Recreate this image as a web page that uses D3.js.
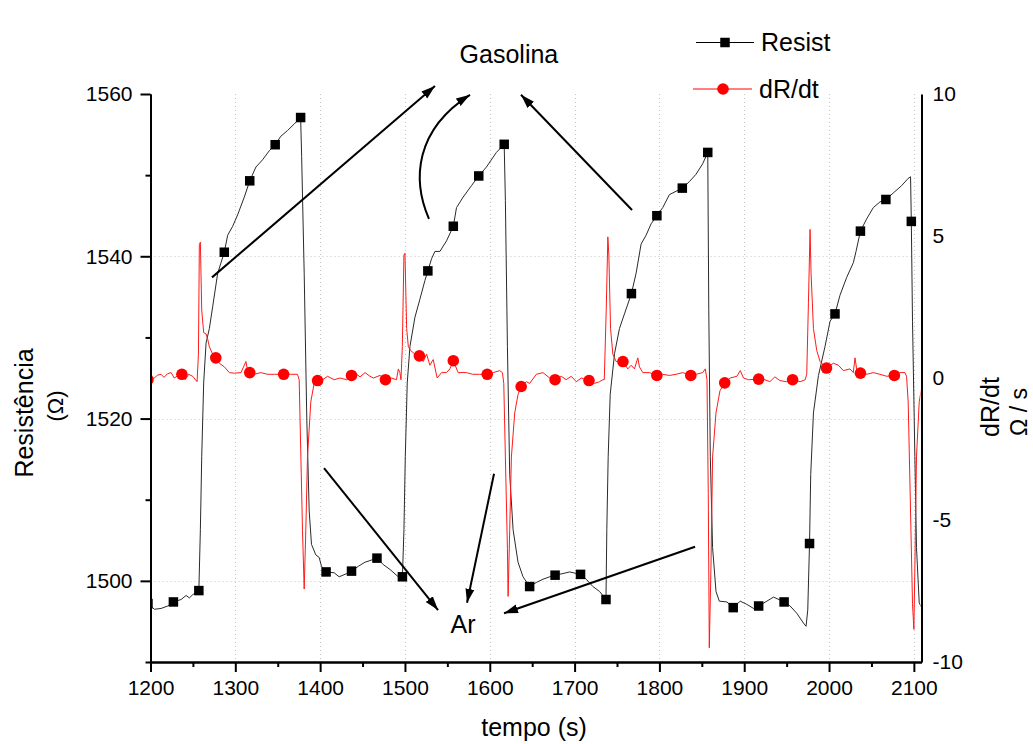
<!DOCTYPE html>
<html>
<head>
<meta charset="utf-8">
<script src="https://cdn.jsdelivr.net/npm/d3@7"></script>
<style>
  body { margin: 0; background: #fff; }
  svg { display: block; }
  text { font-family: "Liberation Sans", Arial, sans-serif; fill: #000; }
</style>
</head>
<body>
<svg id="chart" width="1033" height="744"></svg>
<script>
// Sensor resistance trace, [time (s), resistance (ohm)]
const resistTrace = [
  [1196.9,1497.1],[1204.7,1496.5],[1212.5,1496.6],[1220.4,1496.9],[1227,1497.4],[1236.1,1497.7],
  [1242,1498.2],[1245.9,1497.9],[1249.8,1498.3],[1257,1498.8],[1258.8,1506.3],[1260.4,1515.3],
  [1262.7,1524.4],[1265.5,1529.3],[1269.4,1531.1],[1273.3,1533.8],[1279.2,1537.9],[1287,1540.5],
  [1291,1542.6],[1296.9,1543.7],[1302.7,1545.1],[1310.6,1547.3],[1317,1549.3],[1324.3,1551.0],
  [1332.2,1551.9],[1340,1553.0],[1347,1553.75],[1353.7,1554.8],[1361.6,1555.5],[1369.4,1556.3],
  [1377,1557.1],[1378.2,1552.3],[1381.2,1537.9],[1384.3,1519.8],[1387.1,1508.6],[1389.8,1504.5],
  [1394.9,1503.2],[1398.8,1502.9],[1401.6,1501.8],[1407,1501.1],[1416.5,1501.0],[1422.4,1500.5],
  [1431.4,1500.9],[1437,1501.2],[1445.1,1501.8],[1452.9,1502.3],[1458.8,1502.5],[1467,1502.8],
  [1474.5,1502.0],[1482.4,1501.4],[1492.2,1500.5],[1497,1500.5],[1498.8,1506.3],[1500.4,1515.3],
  [1502.7,1524.4],[1505.9,1528.9],[1511.8,1532.5],[1517.6,1534.7],[1523.5,1537.0],[1527,1538.2],
  [1531.4,1539.7],[1535.3,1540.6],[1541.2,1540.6],[1549,1541.9],[1557,1543.7],[1560.8,1546.0],
  [1568.6,1547.3],[1578.4,1548.7],[1587,1549.9],[1596.1,1551.0],[1607.8,1552.8],[1617,1553.8],
  [1618.4,1546.9],[1620.8,1528.9],[1623.5,1513.1],[1627.5,1506.3],[1633.3,1502.3],[1639.2,1500.5],
  [1647,1499.3],[1654.9,1499.8],[1662.7,1500.2],[1670.6,1500.5],[1677,1500.7],[1686.3,1500.9],
  [1694.1,1501.1],[1707,1500.8],[1713.7,1500.2],[1721.6,1499.3],[1729.4,1498.7],[1737,1497.7],
  [1738,1506.3],[1739.6,1515.3],[1742,1523.0],[1747.1,1528.0],[1752.9,1531.1],[1758.8,1532.9],
  [1767,1535.4],[1772.5,1537.9],[1778.4,1541.5],[1784.3,1542.6],[1790.2,1544.0],[1797,1545.0],
  [1803.9,1546.0],[1811.8,1547.6],[1827,1548.4],[1835.3,1549.2],[1843.1,1550.1],[1851,1551.4],
  [1857,1552.8],[1858.2,1533.4],[1860,1515.3],[1862.7,1504.1],[1866.7,1498.7],[1870.6,1497.5],
  [1879.6,1497.4],[1887,1496.7],[1895.3,1497.5],[1903.1,1497.1],[1911,1496.6],[1917,1496.9],
  [1926.7,1497.5],[1934.5,1498.0],[1947,1497.4],[1954.1,1496.9],[1962,1496.0],[1969.8,1494.8],
  [1972.9,1494.4],[1974.9,1496.4],[1977,1504.6],[1978.4,1513.1],[1981.6,1520.7],[1987.5,1525.3],
  [1995.3,1528.9],[2001.2,1532.0],[2007,1532.9],[2012.9,1535.2],[2020.8,1537.4],[2028.6,1539.2],
  [2031.8,1540.6],[2037,1543.1],[2044.3,1544.6],[2052.2,1546.0],[2060,1546.7],[2067,1547.0],
  [2075.7,1547.8],[2085.5,1548.7],[2093.3,1549.6],[2096.1,1549.8],[2097,1544.3],[2098.4,1532.0],
  [2101.2,1515.3],[2103.1,1504.1],[2106.3,1497.3],[2110,1496.5]
];

// Symbols on the resistance curve (every 30 s)
const resistMarkerTime = [1197,1227,1257,1287,1317,1347,1377,1407,1437,1467,1497,1527,1557,1587,1617,
  1647,1677,1707,1737,1767,1797,1827,1857,1887,1917,1947,1977,2007,2037,2067,2097];
const resistMarkerValue = [1497.2,1497.4,1498.8,1540.5,1549.3,1553.75,1557.1,1501.1,1501.2,1502.8,1500.5,
  1538.2,1543.7,1549.9,1553.8,1499.3,1500.7,1500.8,1497.7,1535.4,1545.0,1548.4,1552.8,1496.7,1496.9,
  1497.4,1504.6,1532.9,1543.1,1547.0,1544.3];

// Derivative trace, [time (s), dR/dt (ohm/s)]
const rateTrace = [
  [1196.9,-0.06],[1204.7,0],[1208,0.1],[1212.5,0.13],[1216,0.02],[1220,0.15],[1224.3,0.19],[1228,0],
  [1232,0.08],[1237,0.13],[1241,-0.06],[1245,0.13],[1249.8,0.06],[1254.9,-0.13],[1256.5,0.84],
  [1257.6,4.7],[1258.8,4.78],[1260.4,2.39],[1262.7,1.6],[1265.5,1.55],[1267.5,1.36],[1269.4,1.1],
  [1273.3,0.84],[1277,0.71],[1281.2,0.52],[1287.1,0.39],[1292.9,0.19],[1298.8,0.17],[1306.7,0.19],
  [1310.6,0.45],[1312.5,0.58],[1314.5,0.26],[1317,0.19],[1322,0.13],[1330,0.19],[1338,0.13],
  [1346,0.13],[1357,0.13],[1365,0.13],[1373.3,0.13],[1375.3,-0.06],[1377.3,-2.78],[1379.2,-5.36],
  [1381.2,-7.43],[1383.1,-5.36],[1385.1,-2.78],[1389,-0.84],[1392.9,-0.19],[1397,-0.09],
  [1402.9,-0.06],[1408.8,0.06],[1416.5,-0.06],[1423.5,0],[1431.4,-0.06],[1437,0.09],[1443.1,0.13],
  [1447,0.04],[1452.9,0.19],[1458.8,0.06],[1462.7,0],[1470.6,0.09],[1477,-0.06],[1484,0],
  [1490,-0.06],[1492.2,0.32],[1494,0.19],[1495.3,-0.06],[1496.9,1.1],[1498.8,4.33],[1500,4.39],
  [1502,1.74],[1504,1.1],[1506.7,0.97],[1511.8,0.84],[1517,0.78],[1521.6,0.58],[1525.5,0.84],
  [1529.4,0.45],[1533.3,0.65],[1538,0],[1543.1,0.19],[1549,0.19],[1552.9,0.32],[1557,0.61],
  [1562.7,0.19],[1572.5,0.19],[1580,0.13],[1588,0.13],[1597,0.13],[1604,0.19],[1611.8,0.26],
  [1614.9,0.19],[1616.5,-0.19],[1618.4,-2.78],[1620.8,-6.0],[1621.6,-7.69],[1623.5,-5.36],
  [1625.5,-2.78],[1629.4,-1.23],[1633.3,-0.58],[1637,-0.30],[1643.1,-0.13],[1647,-0.19],
  [1654.9,0.13],[1662.7,0.19],[1670.6,0],[1677,-0.06],[1684.3,0.06],[1690,-0.06],[1696,0.06],
  [1702,-0.13],[1708,0],[1717,-0.09],[1723.5,-0.19],[1729.4,-0.13],[1733.3,-0.06],[1735,-0.06],
  [1737.3,2.39],[1739.2,4.97],[1740.4,4.33],[1742.4,1.74],[1745.1,0.84],[1749,0.58],[1757,0.58],
  [1762.7,0.32],[1766.7,0.45],[1770.6,0.32],[1774.5,0.71],[1776.5,0.39],[1780.4,0.19],[1788.2,0.19],
  [1797,0.09],[1803.9,0.13],[1811.8,0.09],[1819.6,0.13],[1827.5,0.19],[1837,0.09],[1843.1,0.13],
  [1851,0.19],[1854.1,0.32],[1856.1,-0.06],[1857.6,-4.07],[1858.8,-9.5],[1860.8,-6.65],
  [1862.7,-2.78],[1866.7,-1.23],[1871.4,-0.45],[1877,-0.17],[1883.5,0],[1891.4,0.06],[1895.3,0.26],
  [1899.2,0],[1905.1,-0.06],[1917,-0.04],[1924.3,-0.06],[1930.2,-0.13],[1936.1,0.04],[1942,-0.09],
  [1949.8,-0.13],[1957,-0.06],[1965.9,-0.13],[1971.8,-0.06],[1973.7,0.13],[1975.7,2.65],
  [1977.6,5.23],[1978.8,3.68],[1981.6,1.74],[1985.5,0.97],[1989.4,0.58],[1997,0.35],[2005.1,0.52],
  [2011,0.45],[2016.9,0.26],[2024.7,0.32],[2028.6,0.19],[2030.6,0.71],[2032.5,0.32],[2037,0.17],
  [2044.3,0.13],[2052.2,0.19],[2060,0.13],[2068,0.06],[2077,0.09],[2083.5,0.19],[2089.4,0.19],
  [2091.4,0.06],[2093.3,-0.84],[2096.1,-4.72],[2098.4,-7.95],[2100,-8.85],[2101.2,-6.65],
  [2103.1,-2.78],[2106.3,-0.84],[2110,-0.2]
];

// Symbols on the derivative curve (every 40 s)
const rateMarkerTime = [1197,1237,1277,1317,1357,1397,1437,1477,1517,1557,1597,1637,1677,1717,1757,
  1797,1837,1877,1917,1957,1997,2037,2077];
const rateMarkerValue = [-0.06,0.13,0.71,0.19,0.13,-0.09,0.09,-0.06,0.78,0.61,0.13,-0.30,-0.06,-0.09,
  0.58,0.09,0.09,-0.17,-0.04,-0.06,0.35,0.17,0.09];

// Axis ticks
const xTicks = [1200,1300,1400,1500,1600,1700,1800,1900,2000,2100];
const xMinorTicks = [1250,1350,1450,1550,1650,1750,1850,1950,2050];
const leftTicks = [1500,1520,1540,1560];
const leftMinorTicks = [1490,1510,1530,1550];
const rightTicks = [-10,-5,0,5,10];
const gridX = [1300,1400,1500,1600,1700,1800,1900,2000,2100];
const gridY = [1500,1520,1540];

// Text
const xTitle = "tempo (s)";
const leftTitle = "Resistência";
const leftUnit = "(Ω)";
const rightTitle = "dR/dt";
const rightUnit = "Ω / s";
const legendLabels = ["Resist", "dR/dt"];

// Annotations in data units (time, resistance)
const gasLabel = { text: "Gasolina", t: 1622.6, r: 1563.8 };
const arLabel = { text: "Ar", t: 1568.4, r: 1493.6 };
const straightArrows = [
  [[1272.5,1537.4],[1535.4,1561.0]],
  [[1767.7,1545.7],[1636.8,1559.9]],
  [[1404.6,1513.9],[1539.0,1496.4]],
  [[1605.0,1513.2],[1573.2,1497.3]],
  [[1842.0,1504.2],[1616.8,1496.0]]
];
const curvedArrow = [[1528.3,1544.6],[1508.3,1549.4],[1511.8,1555.6],[1576.7,1559.9]];

const svg = d3.select("#chart");

const x = d3.scaleLinear().domain([1200, 2109]).range([150.5, 921.5]);
const yL = d3.scaleLinear().domain([1490, 1560]).range([662, 94]);
const yR = d3.scaleLinear().domain([-10, 10]).range([662, 94]);

const [x0, x1] = x.range();
const [yb, yt] = yL.range();
const plainNumber = d => String(d);

// Dotted grid
const grid = svg.append("g").attr("stroke", "#c4c4c4").attr("stroke-width", 1)
  .attr("stroke-dasharray", "1,3");
grid.selectAll("line.gx").data(gridX).join("line")
  .attr("x1", d => Math.round(x(d)) + 0.5).attr("x2", d => Math.round(x(d)) + 0.5)
  .attr("y1", yt).attr("y2", yb);
grid.selectAll("line.gy").data(gridY).join("line")
  .attr("x1", x0).attr("x2", x1)
  .attr("y1", d => Math.round(yL(d)) + 0.5).attr("y2", d => Math.round(yL(d)) + 0.5);

// Clip to the plotting frame
svg.append("defs").append("clipPath").attr("id", "plotClip")
  .append("rect").attr("x", x0 + 1).attr("y", 80).attr("width", x1 - x0 - 2).attr("height", yb - 80);

const plot = svg.append("g").attr("clip-path", "url(#plotClip)");

const resistLine = d3.line().x(d => x(d[0])).y(d => yL(d[1]));
const rateLine = d3.line().x(d => x(d[0])).y(d => yR(d[1]));

plot.append("path").datum(resistTrace).attr("d", resistLine)
  .attr("fill", "none").attr("stroke", "#2a2a2a").attr("stroke-width", 1);
plot.selectAll("rect.rm").data(resistMarkerTime).join("rect")
  .attr("x", (d) => x(d) - 4.75).attr("y", (d, i) => yL(resistMarkerValue[i]) - 4.75)
  .attr("width", 9.5).attr("height", 9.5).attr("fill", "#000");

plot.append("path").datum(rateTrace).attr("d", rateLine)
  .attr("fill", "none").attr("stroke", "#ff1a1a").attr("stroke-width", 1);
plot.selectAll("circle.cm").data(rateMarkerTime).join("circle")
  .attr("cx", d => x(d)).attr("cy", (d, i) => yR(rateMarkerValue[i]))
  .attr("r", 5.8).attr("fill", "#ff0000");

// Axes
function styleAxis(g) {
  g.attr("font-size", 21).attr("font-family", "'Liberation Sans', Arial, sans-serif");
  g.select(".domain").attr("stroke", "#000").attr("stroke-width", 2);
  g.selectAll(".tick line").attr("stroke", "#000").attr("stroke-width", 2);
  g.selectAll(".tick text").attr("font-size", 21).attr("fill", "#000");
}

svg.append("g").attr("transform", `translate(0,${yb})`)
  .call(d3.axisBottom(x).tickValues(xMinorTicks).tickSize(5).tickSizeOuter(0).tickFormat(""))
  .call(styleAxis);
svg.append("g").attr("transform", `translate(0,${yb})`)
  .call(d3.axisBottom(x).tickValues(xTicks).tickSize(10).tickSizeOuter(0).tickPadding(8)
    .tickFormat(plainNumber))
  .call(styleAxis);

svg.append("g").attr("transform", `translate(${x0},0)`)
  .call(d3.axisLeft(yL).tickValues(leftMinorTicks).tickSize(5).tickSizeOuter(0).tickFormat(""))
  .call(styleAxis);
svg.append("g").attr("transform", `translate(${x0},0)`)
  .call(d3.axisLeft(yL).tickValues(leftTicks).tickSize(10).tickSizeOuter(0).tickPadding(8)
    .tickFormat(plainNumber))
  .call(styleAxis);

svg.append("g").attr("transform", `translate(${x1},0)`)
  .call(d3.axisRight(yR).tickValues(rightTicks).tickSize(0).tickSizeOuter(0).tickPadding(11)
    .tickFormat(plainNumber))
  .call(styleAxis);

// Axis titles
svg.append("text").attr("x", (x0 + x1) / 2 - 2).attr("y", 736)
  .attr("text-anchor", "middle").attr("font-size", 25).text(xTitle);
svg.append("text").attr("transform", "translate(33,413) rotate(-90)")
  .attr("text-anchor", "middle").attr("font-size", 25).text(leftTitle);
svg.append("text").attr("transform", "translate(63,406) rotate(-90)")
  .attr("text-anchor", "middle").attr("font-size", 22).text(leftUnit);
svg.append("text").attr("transform", "translate(999,407) rotate(-90)")
  .attr("text-anchor", "middle").attr("font-size", 25).text(rightTitle);
svg.append("text").attr("transform", "translate(1027,412) rotate(-90)")
  .attr("text-anchor", "middle").attr("font-size", 23).text(rightUnit);

// Legend
const legend = svg.append("g");
legend.append("line").attr("x1", 696).attr("x2", 754).attr("y1", 42.5).attr("y2", 42.5)
  .attr("stroke", "#000").attr("stroke-width", 1);
legend.append("rect").attr("x", 725 - 4.75).attr("y", 42.5 - 4.75).attr("width", 9.5).attr("height", 9.5)
  .attr("fill", "#000");
legend.append("text").attr("x", 761).attr("y", 51).attr("font-size", 25).text(legendLabels[0]);
legend.append("line").attr("x1", 693).attr("x2", 752).attr("y1", 89).attr("y2", 89)
  .attr("stroke", "#ff0000").attr("stroke-width", 1);
legend.append("circle").attr("cx", 723).attr("cy", 89).attr("r", 5.8).attr("fill", "#ff0000");
legend.append("text").attr("x", 759).attr("y", 98).attr("font-size", 25).text(legendLabels[1]);

// Annotation arrows and labels
const defs = svg.select("defs");
defs.append("marker").attr("id", "head").attr("markerUnits", "userSpaceOnUse")
  .attr("markerWidth", 16).attr("markerHeight", 12).attr("refX", 14).attr("refY", 5)
  .attr("orient", "auto")
  .append("path").attr("d", "M0,0.5 L14,5 L0,9.5 Z").attr("fill", "#000");

const ann = svg.append("g").attr("stroke", "#000").attr("stroke-width", 2).attr("fill", "none");
straightArrows.forEach(a => {
  ann.append("line")
    .attr("x1", x(a[0][0])).attr("y1", yL(a[0][1]))
    .attr("x2", x(a[1][0])).attr("y2", yL(a[1][1]))
    .attr("marker-end", "url(#head)");
});
const cp = curvedArrow.map(p => [x(p[0]), yL(p[1])]);
ann.append("path")
  .attr("d", `M${cp[0]} C${cp[1]} ${cp[2]} ${cp[3]}`)
  .attr("marker-end", "url(#head)");

svg.append("text").attr("x", x(gasLabel.t)).attr("y", yL(gasLabel.r))
  .attr("text-anchor", "middle").attr("font-size", 25).text(gasLabel.text);
svg.append("text").attr("x", x(arLabel.t)).attr("y", yL(arLabel.r))
  .attr("text-anchor", "middle").attr("font-size", 25).text(arLabel.text);
</script>
</body>
</html>
